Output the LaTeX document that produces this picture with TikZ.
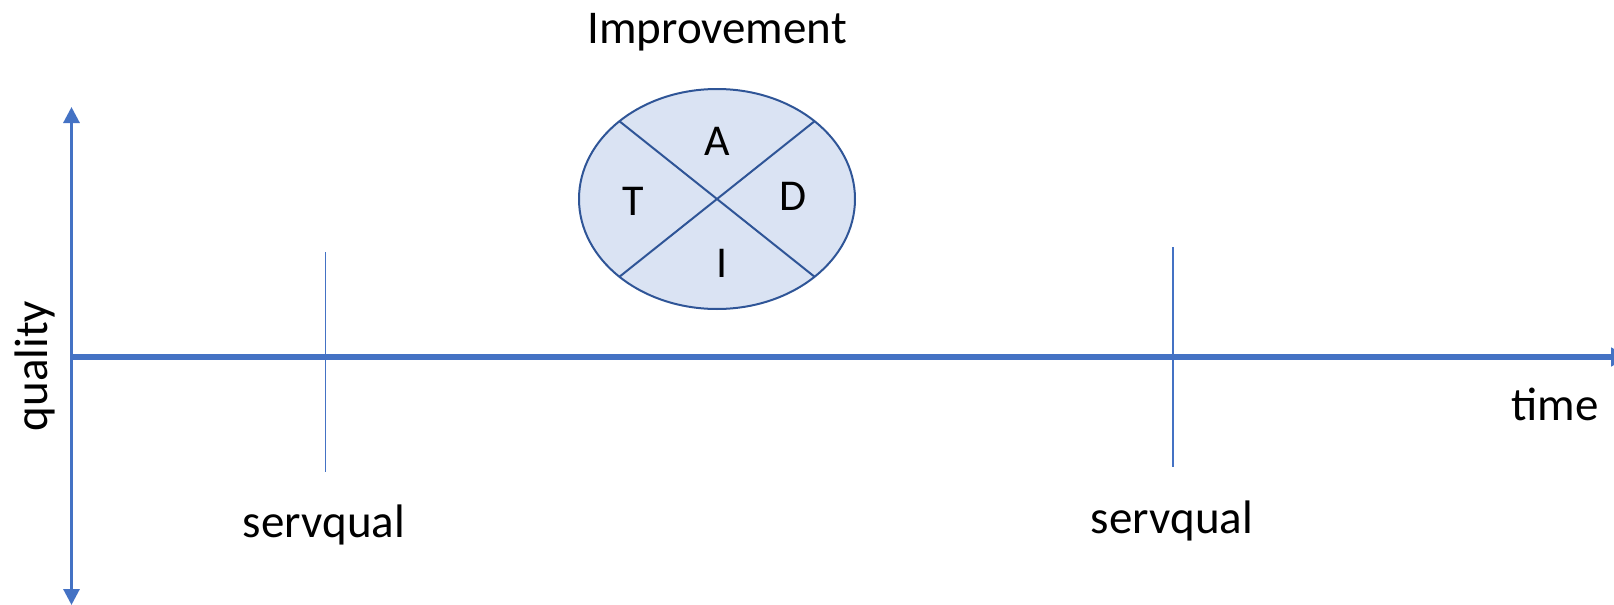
\documentclass[tikz,border=0pt]{standalone}
\usepackage{fontspec}
\setmainfont{Carlito}
\usetikzlibrary{arrows.meta,shapes.geometric,positioning}
\definecolor{Axis}{HTML}{4472C4}
\definecolor{Rim}{HTML}{2F5597}
\definecolor{Pale}{HTML}{DAE3F3}
\tikzset{
 axis/.style={draw=Axis,line width=1.5pt,{Triangle[width=8pt,length=8pt]}-{Triangle[width=8pt,length=8pt]}},
 timeaxis/.style={draw=Axis,line width=2.75pt,-{Triangle[width=9pt,length=9pt]}},
 tick/.style={draw=Axis,line width=0.65pt},
 lbl/.style={font=\fontsize{23.5}{28}\selectfont,inner sep=0pt,anchor=base},
 letter/.style={font=\fontsize{22}{26}\selectfont,inner sep=0pt,anchor=base},
 cycle/.style={ellipse,draw=Rim,fill=Pale,line width=1pt,minimum width=138pt,minimum height=110pt,inner sep=0pt,outer sep=0pt},
 cross/.style={draw=Rim,line width=1pt}
}

\begin{document}
\begin{tikzpicture}[x=0.5pt,y=-0.5pt]
\useasboundingbox (0,0) rectangle (1614,605);
% axes
\coordinate (qtop) at (71.5,107);
\coordinate (qbot) at (71.5,605);
\coordinate (t0) at (71.5,357);
\coordinate (tend) at (1629,357);
\draw[axis] (qbot)--(qtop);
\draw[timeaxis] (t0)--(tend);
% survey marks
\coordinate (sa) at (325.5,252);
\coordinate (sb) at (325.5,472);
\coordinate (sc) at (1173,247);
\coordinate (sd) at (1173,467);
\foreach \x/\y in {sa/sb,sc/sd} \draw[tick] (\x)--(\y);
\node[lbl] (s1) at (324,537) {servqual};
\node[lbl] (s2) at (1172,533) {servqual};
\node[lbl] (time) at (1555,420) {time};
\node[lbl,rotate=90] (quality) at (47,366) {quality};
% improvement cycle
\node[cycle] (tadi) at (717,199) {};
\draw[cross] (tadi.north west)--(tadi.south east);
\draw[cross] (tadi.south west)--(tadi.north east);
\node[letter] (pa) at (717,155) {A};
\node[letter] (pt) at (633,215) {T};
\node[letter] (pd) at (793,210) {D};
\node[letter] (pi) at (722,277) {I};
\node[lbl] (impr) at (717,43) {Improvement};
\end{tikzpicture}
\end{document}
